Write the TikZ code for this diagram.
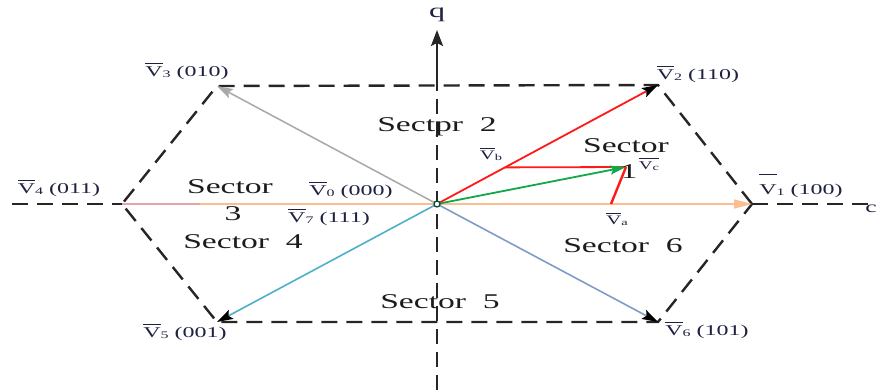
\documentclass[tikz,border=0pt]{standalone}
\usepackage{fontspec}
\setmainfont{Liberation Serif}
\newfontfamily\wf[FakeStretch=1.6]{Liberation Serif}
\usetikzlibrary{arrows.meta}
\definecolor{lbl}{HTML}{1E2240}
\definecolor{txt}{HTML}{1C1C1C}
\definecolor{vred}{HTML}{FF1A1A}
\definecolor{vgreen}{HTML}{12A84A}
\definecolor{vorange}{HTML}{FBBE90}
\definecolor{vpink}{HTML}{E8A3A8}
\definecolor{vgray}{HTML}{A8A8A8}
\definecolor{vcyan}{HTML}{4CB0C8}
\definecolor{vblue}{HTML}{7F9CC8}
\definecolor{odot}{HTML}{0E4A3A}
\newcommand\ovl[1]{$\overline{\hbox{\rule{0pt}{0.82em}#1}}$}
\newcommand\vlab[2]{\ovl{V}\raisebox{-1pt}{\fontsize{10}{10}\selectfont #1} (#2)}
\tikzset{
  hexe/.style={line width=2.4pt, dash pattern=on 16pt off 9pt, black!85},
  axe/.style={line width=2.4pt, dash pattern=on 15pt off 8pt, black!85},
  vl/.style={inner sep=0pt, text=lbl, font=\wf\fontsize{15}{15}\selectfont},
  sl/.style={inner sep=0pt, text=txt, font=\wf\fontsize{21}{21}\selectfont},
  smlbl/.style={inner sep=0pt, text=lbl, font=\wf\fontsize{13}{13}\selectfont},
  blackhead/.style={-{Stealth[length=16pt,width=10pt,inset=3pt,color=black]}},
}
\begin{document}
\begin{tikzpicture}[x=1pt,y=-1pt]
\useasboundingbox (0,0) rectangle (878,390);
% key points
\coordinate (O) at (437,204);
\coordinate (V1) at (752,204);
\coordinate (V2) at (658,85);
\coordinate (V3) at (217,86);
\coordinate (V4) at (122,204);
\coordinate (V5) at (217,322);
\coordinate (V6) at (658,322);
\coordinate (dL) at (12,204);
\coordinate (dR) at (870,204);
\coordinate (qT) at (437,30);
\coordinate (qM) at (437,78);
\coordinate (qB) at (437,390);
\coordinate (B) at (505,167.4);
\coordinate (C) at (626,167);
\coordinate (A) at (611,204);
\coordinate (P) at (200,204);
% axes
\draw[axe] (qB) -- (qM);
\draw[line width=2.4pt, black!85, -{Stealth[length=16pt,width=12pt,inset=3pt]}] (qM) -- (qT);
\draw[hexe] (dL) -- (V4);
\draw[hexe] (V1) -- (dR);
% hexagon
\draw[hexe] (V1) -- (V2) -- (V3) -- (V4) -- (V5) -- (V6) -- cycle;
% vectors
\draw[vorange, line width=1.6pt, -{Triangle[length=18pt,width=9pt]}] (V4) -- (V1);
\draw[vpink, line width=1.6pt] (V4) -- (P);
\draw[vgray, line width=1.5pt, -{Stealth[length=16pt,width=10pt,inset=3pt]}] (O) -- (V3);
\draw[vcyan, line width=1.6pt, blackhead] (O) -- (V5);
\draw[vblue, line width=1.6pt, blackhead] (O) -- (V6);
\draw[vred, line width=1.8pt, blackhead] (O) -- (V2);
\draw[vred, line width=1.8pt] (B) -- (C);
\draw[vred, line width=2.4pt] (A) -- (C);
\draw[vgreen, line width=1.8pt, -{Stealth[length=16pt,width=9pt,inset=3pt]}] (O) -- (C);
\draw[odot, line width=1.3pt, fill=white] (O) circle (3pt);
% axis labels
\node[inner sep=0pt, text=lbl, font=\wf\fontsize{20}{20}\selectfont] (ql) at (437,15) {q};
\node[inner sep=0pt, text=lbl, font=\wf\fontsize{16}{16}\selectfont] (dl) at (871,209) {c};
% vertex labels
\node[vl] (l3) at (187,71) {\vlab{3}{010}};
\node[vl] (l2) at (698,74) {\vlab{2}{110}};
\node[vl] (l4) at (59,188) {\vlab{4}{011}};
\node[vl] (l1) at (801,186) {$\overline{\hbox{\rule{0pt}{1.25em}V}}$\raisebox{-1pt}{\fontsize{10}{10}\selectfont 1} (100)};
\node[vl] (l5) at (185,332) {\vlab{5}{001}};
\node[vl] (l6) at (707,330) {\vlab{6}{101}};
\node[vl] (l0) at (351,190) {\vlab{0}{000}};
\node[vl] (l7) at (329,217) {\vlab{7}{111}};
% small vector labels
\node[smlbl] (lb) at (491,154) {\ovl{V}\raisebox{-1pt}{\fontsize{9}{9}\selectfont b}};
\node[smlbl] (la) at (617,219) {\ovl{V}\raisebox{-1pt}{\fontsize{9}{9}\selectfont a}};
\node[smlbl, font=\wf\fontsize{12}{12}\selectfont] (lc) at (649,164) {\ovl{V\raisebox{-1pt}{\fontsize{9}{9}\selectfont c}}};
% sector labels
\node[sl] (s2) at (437,127) {Sectpr~~2};
\node[sl] (s1) at (626,146) {Sector};
\node[sl] (s1n) at (629,172) {1};
\node[sl] (s3) at (230,187) {Sector};
\node[sl] (s3n) at (233,214) {3};
\node[sl] (s4) at (243,242) {Sector~~4};
\node[sl] (s5) at (440,302) {Sector~~5};
\node[sl] (s6) at (623,246) {Sector~~6};
\end{tikzpicture}
\end{document}
